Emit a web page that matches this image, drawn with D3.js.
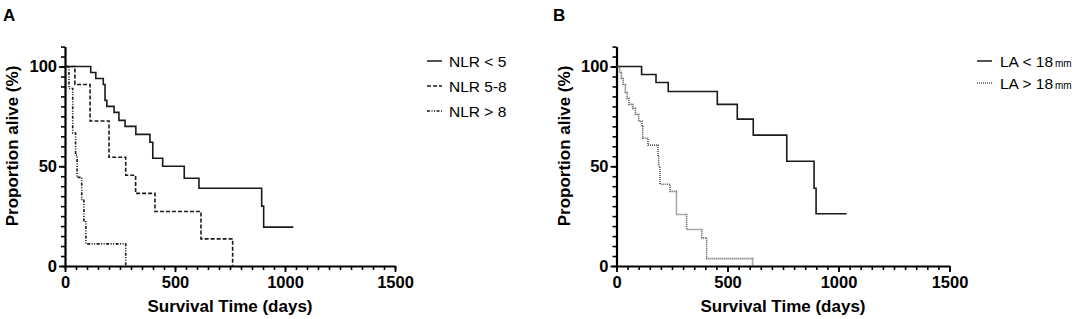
<!DOCTYPE html>
<html>
<head>
<meta charset="utf-8">
<script src="https://cdn.jsdelivr.net/npm/d3@7"></script>
<style>
  body { margin: 0; background: #fff; }
  svg { font-family: Arial, "Liberation Sans", sans-serif; }
</style>
</head>
<body>
<svg id="chart" width="1084" height="319"></svg>
<script>
// ---------- data (days, % alive) ----------
const nlrLow = [[0,100],[117,97],[140,94],[174,91],[182,83],[190,80],[223,77],[245,73],[273,70],[322,66],[386,62],[399,54],[444,50],[542,44],[609,39],[894,30],[903,19.5],[1038,19.5]];
const nlrMid = [[0,100],[45,91],[114,72.7],[200,54.5],[276,45.5],[321,36.4],[409,27.3],[618,13.6],[762,0]];
const nlrHigh = [[0,100],[18,89],[35,66.7],[48,55.6],[55,44.4],[76,33.3],[86,22.2],[95,11.1],[276,0]];

const laLow = [[0,100],[113,96],[178,92],[233,87.5],[454,81],[544,73.6],[616,65.6],[767,52.5],[890,39],[899,26.2],[1037,26.2]];
const laHigh = [[0,100],[14,97],[22,94],[30,91],[40,87],[48,84],[56,81],[73,79],[85,76],[100,72.5],[115,70],[118,64],[142,60.6],[187,55],[190,50],[196,41],[241,37.4],[270,25.8],[316,18.3],[384,14.1],[406,3.7],[613,0]];

const xMajor = [0, 500, 1000, 1500];
const yMajor = [0, 50, 100];

const panels = [
    { letter: "A", left: 65, right: 395, letterX: 3,
      series: [
        { name: "NLR < 5", values: nlrLow, dash: null },
        { name: "NLR 5-8", values: nlrMid, dash: "4,2" },
        { name: "NLR > 8", values: nlrHigh, dash: "3,1.5,1,1.5,1,1.5" }
      ],
      legend: { lineX: 427, textX: 449, y0: 61, dy: 25 } },
    { letter: "B", left: 616.5, right: 949.5, letterX: 553,
      series: [
        { name: "LA < 18", unit: "mm", values: laLow, dash: null },
        { name: "LA > 18", unit: "mm", values: laHigh, dash: "1,1", color: "#555" }
      ],
      legend: { lineX: 977, textX: 1000, y0: 61, dy: 22 } }
];

const svg = d3.select("#chart");
const yTop = 66.5, yBottom = 266;
const fontStack = "Arial, 'Liberation Sans', sans-serif";

panels.forEach(p => drawPanel(p));

function drawPanel(p) {
    const x = d3.scaleLinear().domain([0, 1500]).range([p.left, p.right]);
    const y = d3.scaleLinear().domain([0, 100]).range([yBottom, yTop]);
    const yAxisScale = y.copy().domain([0, 110]).range([yBottom, y(110)]);
    const g = svg.append("g");

    // panel letter
    g.append("text").attr("x", p.letterX).attr("y", 21)
        .attr("font-size", 17).attr("font-weight", "bold").text(p.letter);

    // x axis: minor then major
    g.append("g").attr("transform", `translate(0,${yBottom})`)
        .call(d3.axisBottom(x).tickValues(d3.range(0, 1501, 50)).tickSize(4).tickSizeOuter(0).tickFormat(""))
        .call(a => a.select(".domain").remove())
        .call(a => a.selectAll("line").attr("stroke", "#000").attr("stroke-width", 1.6));
    g.append("g").attr("transform", `translate(0,${yBottom})`)
        .call(d3.axisBottom(x).tickValues(xMajor).tickSize(6).tickSizeOuter(0).tickPadding(4).tickFormat(d3.format("d")))
        .call(a => a.select(".domain").attr("stroke-width", 2.2))
        .call(a => a.selectAll("line").attr("stroke", "#000").attr("stroke-width", 1.8))
        .call(a => a.selectAll("text").attr("font-size", 16.5).attr("font-weight", "bold").attr("fill", "#000")
            .attr("font-family", fontStack));

    // y axis
    g.append("g").attr("transform", `translate(${p.left},0)`)
        .call(d3.axisLeft(yAxisScale).tickValues(d3.range(0, 111, 5)).tickSize(4).tickSizeOuter(0).tickFormat(""))
        .call(a => a.select(".domain").remove())
        .call(a => a.selectAll("line").attr("stroke", "#000").attr("stroke-width", 1.6));
    g.append("g").attr("transform", `translate(${p.left},0)`)
        .call(d3.axisLeft(yAxisScale).tickValues(yMajor).tickSize(6).tickSizeOuter(0).tickPadding(2))
        .call(a => a.select(".domain").attr("stroke-width", 2.2))
        .call(a => a.selectAll("line").attr("stroke", "#000").attr("stroke-width", 1.8))
        .call(a => a.selectAll("text").attr("font-size", 16.5).attr("font-weight", "bold").attr("fill", "#000")
            .attr("font-family", fontStack));

    // axis titles
    g.append("text").attr("x", (p.left + p.right) / 2).attr("y", 312)
        .attr("text-anchor", "middle").attr("font-size", 17).attr("font-weight", "bold")
        .text("Survival Time (days)");
    g.append("text")
        .attr("transform", `translate(${p.left - 47},${146}) rotate(-90)`)
        .attr("text-anchor", "middle").attr("font-size", 17).attr("font-weight", "bold")
        .text("Proportion alive (%)");

    // survival curves
    const line = d3.line().x(d => x(d[0])).y(d => y(d[1])).curve(d3.curveStepAfter);
    p.series.forEach(s => {
        g.append("path").attr("d", line(s.values))
            .attr("fill", "none").attr("stroke", s.color || "#1a1a1a")
            .attr("stroke-width", 1.6)
            .attr("stroke-dasharray", s.dash);
    });

    // legend
    const lg = g.append("g");
    p.series.forEach((s, i) => {
        const ly = p.legend.y0 + i * p.legend.dy;
        lg.append("line").attr("x1", p.legend.lineX).attr("x2", p.legend.lineX + 15)
            .attr("y1", ly).attr("y2", ly)
            .attr("stroke", s.color || "#1a1a1a").attr("stroke-width", 1.5)
            .attr("stroke-dasharray", s.dash);
        const t = lg.append("text").attr("x", p.legend.textX).attr("y", ly + 5.5)
            .attr("font-size", 15.5).text(s.name);
        if (s.unit) t.append("tspan").attr("dx", 2).attr("font-size", 10).text(s.unit);
    });
}
</script>
</body>
</html>
